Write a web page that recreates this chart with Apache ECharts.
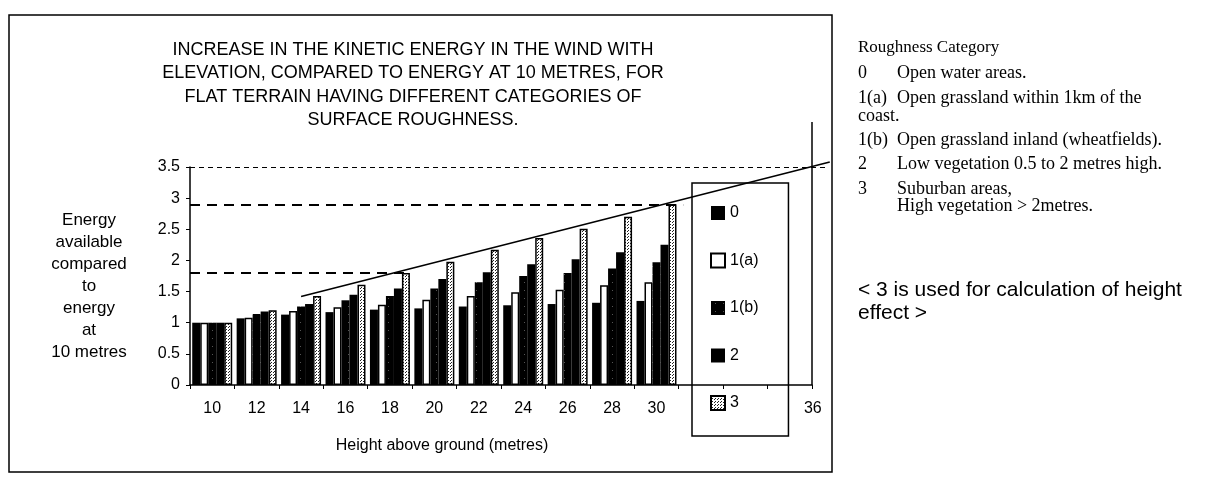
<!DOCTYPE html>
<html>
<head>
<meta charset="utf-8">
<script src="https://cdn.jsdelivr.net/npm/echarts@6/dist/echarts.min.js"></script>
<style>
  html, body { margin: 0; padding: 0; background: #fff; }
  #chart { width: 1226px; height: 478px; }
</style>
</head>
<body>
<div id="chart"></div>
<script>
// heights (metres) on the category axis, 32 and 34 have no bars
var heights = ['10', '12', '14', '16', '18', '20', '22', '24', '26', '28', '30', '32', '34', '36'];
var xTickLabels = ['10', '12', '14', '16', '18', '20', '22', '24', '26', '28', '30', '', '', '36'];
var yTicks = [0, 0.5, 1, 1.5, 2, 2.5, 3, 3.5];
var seriesNames = ['0', '1(a)', '1(b)', '2', '3'];

// energy relative to 10 m, one array per roughness category
var cat0  = [1.00, 1.07, 1.13, 1.17, 1.21, 1.23, 1.26, 1.28, 1.30, 1.32, 1.35];
var cat1a = [1.00, 1.08, 1.19, 1.25, 1.29, 1.37, 1.43, 1.49, 1.53, 1.60, 1.65];
var cat1b = [1.00, 1.14, 1.26, 1.36, 1.43, 1.55, 1.65, 1.75, 1.80, 1.87, 1.97];
var cat2  = [1.00, 1.18, 1.30, 1.45, 1.55, 1.70, 1.81, 1.94, 2.02, 2.13, 2.25];
var cat3  = [1.00, 1.20, 1.43, 1.61, 1.80, 1.98, 2.17, 2.36, 2.51, 2.70, 2.90];

// dashed reference levels: [energy, height where the dash stops]
var refLevels = [[1.8, 18.7], [2.9, 31.2], [3.5, 37.6]];
// straight envelope line drawn over the bars: [height, energy]
var envelope = [[14, 1.42], [37.8, 3.58]];

var titleLines = [
    'INCREASE IN THE KINETIC ENERGY IN THE WIND WITH',
    'ELEVATION, COMPARED TO ENERGY AT 10 METRES, FOR',
    'FLAT TERRAIN HAVING DIFFERENT CATEGORIES OF',
    'SURFACE ROUGHNESS.'
];
var yNameLines = ['Energy', 'available', 'compared', 'to', 'energy', 'at', '10 metres'];

function makePattern(size, bg, fg, dots) {
    var c = document.createElement('canvas');
    c.width = size; c.height = size;
    var ctx = c.getContext('2d');
    ctx.fillStyle = bg;
    ctx.fillRect(0, 0, size, size);
    ctx.fillStyle = fg;
    for (var i = 0; i < dots.length; i++) {
        ctx.fillRect(dots[i][0], dots[i][1], 1, 1);
    }
    return { image: c, repeat: 'repeat' };
}

var dotted = makePattern(3, '#fff', '#222', [[0, 0], [1, 2]]);
var speckled = makePattern(8, '#000', '#555', [[4, 2]]);

var font = 'Liberation Sans';
var serif = 'Liberation Serif';

// plot area in pixels; the overlay grid is stretched so its units match
var plot = { left: 190, top: 167, width: 622, height: 218 };
var hMin = 9, hMax = 37, eMax = 3.5;
var pxPerM = plot.width / (hMax - hMin);
var pxPerE = plot.height / eMax;
var hMax2 = 38.5, eMax2 = 3.8;
var overlay = {
    left: plot.left,
    top: plot.top + plot.height - eMax2 * pxPerE,
    width: (hMax2 - hMin) * pxPerM,
    height: eMax2 * pxPerE
};

var myChart = echarts.init(document.getElementById('chart'), null, { renderer: 'canvas' });

function barSeries(name, data, style) {
    return {
        name: name,
        type: 'bar',
        xAxisIndex: 0,
        yAxisIndex: 0,
        barGap: '0%',
        barCategoryGap: '10%',
        itemStyle: style,
        emphasis: { disabled: true },
        data: data
    };
}

var refLines = [];
for (var i = 0; i < refLevels.length; i++) {
    refLines.push([
        { coord: [hMin, refLevels[i][0]], lineStyle: { type: i < 2 ? [10, 7] : [5, 4], width: i < 2 ? 1.8 : 1.2, color: '#000' } },
        { coord: [refLevels[i][1], refLevels[i][0]] }
    ]);
}

// right hand notes
var notes = [
    { x: 858, y: 73, t: '0' }, { x: 897, y: 73, t: 'Open water areas.' },
    { x: 858, y: 98, t: '1(a)' }, { x: 897, y: 98, t: 'Open grassland within 1km of the' },
    { x: 858, y: 116, t: 'coast.' },
    { x: 858, y: 140, t: '1(b)' }, { x: 897, y: 140, t: 'Open grassland inland (wheatfields).' },
    { x: 858, y: 164, t: '2' }, { x: 897, y: 164, t: 'Low vegetation 0.5 to 2 metres high.' },
    { x: 858, y: 189, t: '3' }, { x: 897, y: 189, t: 'Suburban areas,' },
    { x: 897, y: 206, t: 'High vegetation > 2metres.' }
];
var graphics = [
    { type: 'rect', shape: { x: 9, y: 15, width: 823, height: 457 }, style: { fill: 'none', stroke: '#000', lineWidth: 1.5 }, z: 0 },
    { type: 'line', shape: { x1: 812, y1: 122, x2: 812, y2: 385 }, style: { stroke: '#000', lineWidth: 1.5 } },
    {
        type: 'text', x: 858, y: 48,
        style: { text: 'Roughness Category', font: '17px "' + serif + '"', fill: '#000', textVerticalAlign: 'middle' }
    }
];
notes.forEach(function (n) {
    graphics.push({
        type: 'text', x: n.x, y: n.y,
        style: { text: n.t, font: '18px "' + serif + '"', fill: '#000', textVerticalAlign: 'middle' }
    });
});
graphics.push({
    type: 'text', x: 858, y: 302,
    style: { text: '< 3 is used for calculation of height\neffect >', font: '21px "' + font + '"', lineHeight: 23, fill: '#000', textVerticalAlign: 'middle' }
});

var option = {
    animation: false,
    backgroundColor: '#fff',
    title: [
        {
            text: titleLines.join('\n'),
            left: 408, top: 33, textAlign: 'center',
            textStyle: { fontFamily: font, fontSize: 18, fontWeight: 'normal', color: '#000', lineHeight: 23.5 }
        },
        {
            text: yNameLines.join('\n'),
            left: 84, top: 204, textAlign: 'center',
            textStyle: { fontFamily: font, fontSize: 17, fontWeight: 'normal', color: '#000', lineHeight: 22 }
        },
        {
            text: 'Height above ground (metres)',
            left: 437, top: 433, textAlign: 'center',
            textStyle: { fontFamily: font, fontSize: 16, fontWeight: 'normal', color: '#000' }
        }
    ],
    legend: {
        data: seriesNames,
        orient: 'vertical',
        left: 692, top: 183,
        padding: [22, 30, 25, 18],
        itemWidth: 14, itemHeight: 14, itemGap: 31.5,
        icon: 'rect',
        borderColor: '#000', borderWidth: 1.5,
        selectedMode: false,
        textStyle: { fontFamily: font, fontSize: 16, color: '#000' }
    },
    grid: [
        { left: plot.left, top: plot.top, width: plot.width, height: plot.height },
        overlay
    ],
    xAxis: [
        {
            type: 'category',
            gridIndex: 0,
            data: heights,
            axisLine: { lineStyle: { color: '#000', width: 1.5 } },
            axisTick: { show: true, length: 4, lineStyle: { color: '#000' } },
            axisLabel: {
                interval: 0, margin: 16, color: '#000', fontFamily: font, fontSize: 16,
                formatter: function (v, idx) {
                    var s = xTickLabels[idx];
                    return idx === heights.length - 1 ? '{s|' + s + '}' : s;
                },
                rich: { s: { fontFamily: font, fontSize: 16, color: '#000', padding: [0, 0, 0, 46] } }
            },
            splitLine: { show: false }
        },
        { type: 'value', gridIndex: 1, min: hMin, max: hMax2, show: false }
    ],
    yAxis: [
        {
            type: 'value', gridIndex: 0, min: 0, max: eMax, interval: 0.5,
            axisLine: { show: true, lineStyle: { color: '#000', width: 1.5 } },
            axisTick: { show: true, length: 4, lineStyle: { color: '#000' } },
            axisLabel: {
                color: '#000', fontFamily: font, fontSize: 16, margin: 10,
                formatter: function (v) { return yTicks.indexOf(v) >= 0 ? String(v) : ''; }
            },
            splitLine: { show: false }
        },
        { type: 'value', gridIndex: 1, min: 0, max: eMax2, show: false }
    ],
    series: [
        barSeries('0', cat0, { color: '#000' }),
        barSeries('1(a)', cat1a, { color: '#fff', borderColor: '#000', borderWidth: 1.5 }),
        barSeries('1(b)', cat1b, { color: speckled }),
        barSeries('2', cat2, { color: '#000' }),
        barSeries('3', cat3, { color: dotted, borderColor: '#000', borderWidth: 1.5 }),
        {
            name: 'envelope',
            type: 'line',
            xAxisIndex: 1,
            yAxisIndex: 1,
            symbol: 'none',
            silent: true,
            z: 5,
            lineStyle: { color: '#000', width: 1.5 },
            data: envelope,
            markLine: {
                silent: true,
                symbol: 'none',
                label: { show: false },
                data: refLines
            }
        }
    ],
    graphic: graphics
};

myChart.setOption(option);
</script>
</body>
</html>
